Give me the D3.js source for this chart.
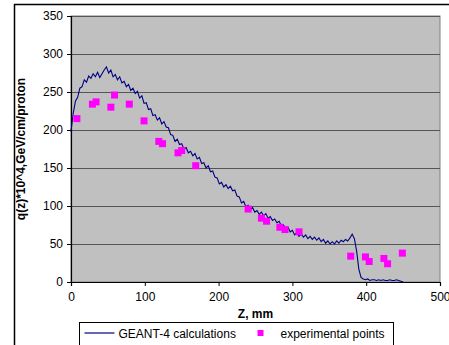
<!DOCTYPE html>
<html>
<head>
<meta charset="utf-8">
<script src="https://cdn.jsdelivr.net/npm/d3@7"></script>
<style>
  body { margin: 0; background: #fff; }
  svg { display: block; font-family: "Liberation Sans", Arial, sans-serif; }
</style>
</head>
<body>
<div id="chart"></div>
<script>
// GEANT-4 calculation, depth (mm) and q(z)*10^4
const geantZ = [
  0, 3, 6, 9, 12, 15, 18, 21, 24, 27,
  30, 33, 36, 39, 42, 45, 48, 51, 54, 57,
  60, 63, 66, 69, 72, 75, 78, 81, 84, 87,
  90, 93, 96, 99, 102, 105, 108, 111, 114, 117,
  120, 123, 126, 129, 132, 135, 138, 141, 144, 147,
  150, 153, 156, 159, 162, 165, 168, 171, 174, 177,
  180, 183, 186, 189, 192, 195, 198, 201, 204, 207,
  210, 213, 216, 219, 222, 225, 228, 231, 234, 237,
  240, 243, 246, 249, 252, 255, 258, 261, 264, 267,
  270, 273, 276, 279, 282, 285, 288, 291, 294, 297,
  300, 303, 306, 309, 312, 315, 318, 321, 324, 327,
  330, 333, 336, 339, 342, 345, 348, 351, 354, 357,
  360, 363, 366, 369, 372, 375, 378, 381, 384, 387,
  390, 393, 396, 399, 402, 405, 408, 411, 414, 417,
  420, 423, 426, 429, 432, 435, 438, 441, 444, 447, 450
];
const geantQ = [
  198, 222, 238, 243, 255, 257, 266, 263, 271, 268,
  274, 270, 276, 269, 274, 279, 283, 275, 279, 270,
  273, 266, 270, 262, 264, 257, 260, 252, 255, 248,
  251, 242, 245, 235, 236, 227, 228, 219, 220, 213,
  216, 208, 211, 204, 203, 194, 193, 185, 188, 181,
  182, 175, 177, 170, 172, 166, 169, 162, 164, 156,
  157, 150, 153, 145, 146, 138, 137, 129, 131, 125,
  128, 123, 126, 120, 121, 113, 112, 104, 106, 99,
  101, 95, 98, 92, 94, 89, 92, 87, 90, 84,
  86, 81, 83, 78, 80, 74, 75, 69, 72, 66,
  68, 62, 65, 60, 63, 59, 62, 57, 60, 56,
  59, 55, 58, 53, 56, 51, 54, 50, 53, 50,
  54, 51, 55, 53, 56, 54, 58, 63, 57, 41,
  17, 6, 4, 3, 4, 2, 3, 3, 2, 3,
  2, 3, 2, 2, 3, 2, 2, 3, 2, 1, 0
];

// experimental points
const expZ = [8, 29, 34, 54, 59, 79, 99, 119, 124, 145, 150, 169,
  240, 258, 265, 283, 290, 309, 379, 399, 404, 424, 429, 449];
const expQ = [215, 234, 237, 230, 246, 234, 212, 185, 182, 170, 173, 153,
  96, 84, 80, 72, 69, 66, 34, 33, 27, 31, 24, 38];

const xTicks = [0, 100, 200, 300, 400, 500];
const yTicks = [0, 50, 100, 150, 200, 250, 300, 350];

const width = 449, height = 345;
const margin = { top: 16, right: 9, bottom: 63, left: 71 };
const innerWidth = width - margin.left - margin.right;
const innerHeight = height - margin.top - margin.bottom;

const svg = d3.select('#chart')
  .append('svg')
    .attr('width', width)
    .attr('height', height);

// outer chart frame (right and bottom edges fall outside the picture)
svg.append('rect')
  .attr('x', 14.5).attr('y', 4.5)
  .attr('width', 460).attr('height', 360)
  .attr('fill', 'none')
  .attr('stroke', '#000')
  .attr('stroke-width', 1.5);

const xScale = d3.scaleLinear().domain([0, 500]).range([0, innerWidth]);
const yScale = d3.scaleLinear().domain([0, 350]).range([innerHeight, 0]);

const plot = svg.append('g')
  .attr('transform', `translate(${margin.left}, ${margin.top})`);

plot.append('rect')
  .attr('width', innerWidth)
  .attr('height', innerHeight)
  .attr('fill', '#c0c0c0')
  .attr('stroke', '#808080')
  .attr('stroke-width', 1);

// horizontal gridlines
plot.selectAll('.grid')
  .data(yTicks.filter(d => d > 0))
  .join('line')
    .attr('class', 'grid')
    .attr('x1', 0)
    .attr('x2', innerWidth)
    .attr('y1', d => Math.round(yScale(d)) + 0.5)
    .attr('y2', d => Math.round(yScale(d)) + 0.5)
    .attr('stroke', '#555')
    .attr('stroke-width', 1);

// axes
const xAxis = plot.append('g')
  .attr('transform', `translate(0, ${innerHeight})`)
  .call(d3.axisBottom(xScale).tickValues(xTicks).tickSize(4).tickPadding(6));
const yAxis = plot.append('g')
  .call(d3.axisLeft(yScale).tickValues(yTicks).tickSize(4).tickPadding(4));

[xAxis, yAxis].forEach(ax => {
  ax.select('.domain').attr('stroke', '#000').attr('stroke-width', 1.2);
  ax.selectAll('.tick line').attr('stroke', '#000');
  ax.selectAll('.tick text')
    .attr('fill', '#000')
    .style('font-size', '12px')
    .style('font-family', '"Liberation Sans", Arial, sans-serif');
});

// GEANT-4 curve
const line = d3.line()
  .x((d, i) => xScale(geantZ[i]))
  .y(d => yScale(d));

plot.append('path')
  .datum(geantQ)
  .attr('d', line)
  .attr('fill', 'none')
  .attr('stroke', '#000080')
  .attr('stroke-width', 1.1)
  .attr('stroke-linejoin', 'miter');

// experimental points
const ms = 7;
plot.selectAll('.pt')
  .data(expZ)
  .join('rect')
    .attr('class', 'pt')
    .attr('x', (d, i) => xScale(d) - ms / 2)
    .attr('y', (d, i) => yScale(expQ[i]) - ms / 2)
    .attr('width', ms)
    .attr('height', ms)
    .attr('fill', '#ff00ff');

// axis titles
svg.append('text')
  .text('Z, mm')
  .attr('x', margin.left + innerWidth / 2)
  .attr('y', 318)
  .attr('text-anchor', 'middle')
  .style('font-size', '12px')
  .style('font-weight', 'bold');

svg.append('text')
  .text('q(z)*10^4,GeV/cm/proton')
  .attr('transform', `translate(25, ${margin.top + innerHeight / 2}) rotate(-90)`)
  .attr('text-anchor', 'middle')
  .style('font-size', '12px')
  .style('font-weight', 'bold');

// legend
const legend = svg.append('g').attr('transform', 'translate(79.5, 322.5)');
legend.append('rect')
  .attr('width', 314)
  .attr('height', 30)
  .attr('fill', '#fff')
  .attr('stroke', '#000')
  .attr('stroke-width', 1);
legend.append('line')
  .attr('x1', 5).attr('x2', 35)
  .attr('y1', 10.5).attr('y2', 10.5)
  .attr('stroke', '#000080')
  .attr('stroke-width', 1.2);
legend.append('text')
  .text('GEANT-4 calculations')
  .attr('x', 39).attr('y', 15)
  .style('font-size', '12px');
legend.append('rect')
  .attr('x', 178).attr('y', 7.5)
  .attr('width', 6).attr('height', 6)
  .attr('fill', '#ff00ff');
legend.append('text')
  .text('experimental points')
  .attr('x', 201).attr('y', 15)
  .style('font-size', '12px');
</script>
</body>
</html>
